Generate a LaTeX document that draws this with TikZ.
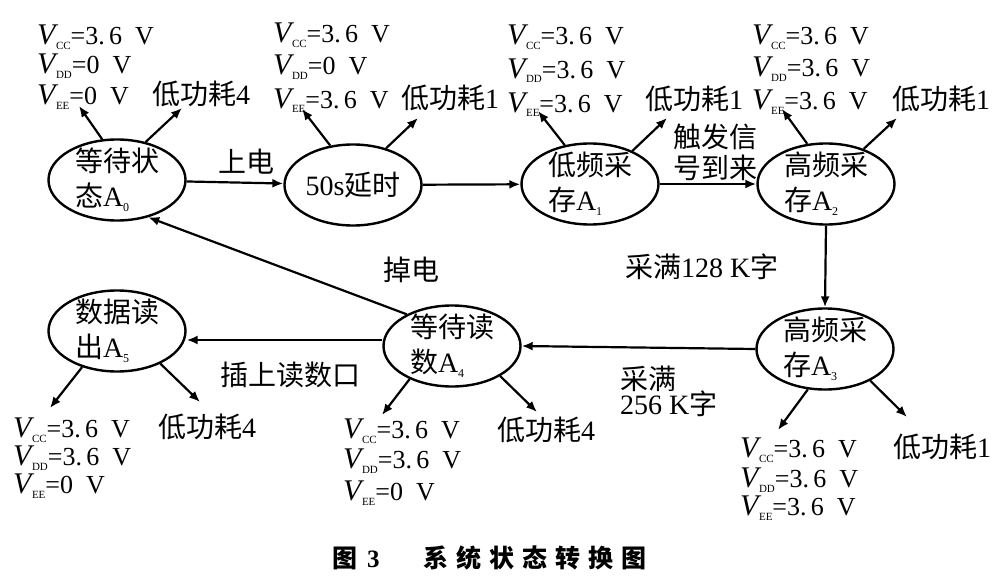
\documentclass[tikz,border=0pt]{standalone}
\usepackage{fontspec}
\setmainfont{Liberation Serif}
\newfontfamily\cjk{Noto Sans CJK SC}
\usetikzlibrary{shapes.geometric,arrows.meta}
\newcommand\zh[1]{{\cjk #1}}
\newcommand\mysub[1]{\raisebox{-5pt}{\fontsize{12}{12}\selectfont #1}}
\newcommand\vsym[1]{{\fontsize{30}{30}\selectfont\itshape V}\kern0.5pt\raisebox{-5pt}{\fontsize{11}{11}\selectfont #1}}
\newcommand\vval[2]{\vsym{#1}=#2~~V}
\newcommand\vblk[8]{%
  \node[vt] (#1cc) at (#2,#3) {\vval{CC}{#6}};
  \node[vt] (#1dd) at (#2,#4) {\vval{DD}{#7}};
  \node[vt] (#1ee) at (#2,#5) {\vval{EE}{#8}};}
\begin{document}
\begin{tikzpicture}[x=1pt,y=-1pt,
  st/.style={ellipse, draw, line width=2.4pt, minimum width=137pt, minimum height=81pt, inner sep=0pt},
  stxt/.style={align=left, inner sep=0pt, font=\fontsize{28}{35}\selectfont},
  arr/.style={line width=2.2pt, -{Latex[length=11pt,width=9pt]}},
  vt/.style={anchor=base west, inner sep=0pt, text height=20pt, text depth=4pt, font=\fontsize{26}{26}\selectfont},
  lt/.style={anchor=base west, inner sep=0pt, text height=22pt, text depth=2pt, font=\fontsize{28}{28}\selectfont}]
\useasboundingbox (0,0) rectangle (1002,586);
% states
\node[st, label={[stxt]center:{\zh{等待状}\\\zh{态}A\mysub{0}}}] (A0) at (117,180) {};
\node[st, label={[stxt]center:{50s\zh{延时}}}] (S) at (353,185) {};
\node[st, label={[stxt]center:{\zh{低频采}\\\zh{存}A\mysub{1}}}] (A1) at (590,184) {};
\node[st, label={[stxt]center:{\zh{高频采}\\\zh{存}A\mysub{2}}}] (A2) at (826,184) {};
\node[st, label={[stxt]center:{\zh{高频采}\\\zh{存}A\mysub{3}}}] (A3) at (825,349) {};
\node[st, label={[stxt]center:{\zh{等待读}\\\zh{数}A\mysub{4}}}] (A4) at (452,346) {};
\node[st, label={[stxt]center:{\zh{数据读}\\\zh{出}A\mysub{5}}}] (A5) at (117,331) {};
% voltage blocks
\vblk{b0}{37}{45}{74}{105}{3.\,6}{0}{0}
\vblk{b1}{273}{43}{75}{108}{3.\,6}{0}{3.\,6}
\vblk{b2}{507}{45}{78}{112}{3.\,6}{3.\,6}{3.\,6}
\vblk{b3}{752}{45}{77}{110}{3.\,6}{3.\,6}{3.\,6}
\vblk{b5}{13}{437}{465}{493}{3.\,6}{3.\,6}{0}
\vblk{b4}{343}{438}{468}{500}{3.\,6}{3.\,6}{0}
\vblk{b6}{740}{457}{487}{515}{3.\,6}{3.\,6}{3.\,6}
% low power labels
\node[lt] (p0) at (152,105) {\zh{低功耗}4};
\node[lt] (p1) at (401,108) {\zh{低功耗}1};
\node[lt] (p2) at (645,110) {\zh{低功耗}1};
\node[lt] (p3) at (892,110) {\zh{低功耗}1};
\node[lt] (p5) at (158,437) {\zh{低功耗}4};
\node[lt] (p4) at (497,440) {\zh{低功耗}4};
\node[lt] (p6) at (893,457) {\zh{低功耗}1};
% transition labels
\node[lt] (l1) at (218,172) {\zh{上电}};
\node[lt] (l2a) at (673,147) {\zh{触发信}};
\node[lt] (l2b) at (673,178) {\zh{号到来}};
\node[lt] (l3) at (625,277) {\zh{采满}128~K\zh{字}};
\node[lt] (l4a) at (620,389) {\zh{采满}};
\node[lt] (l4b) at (620,414) {256~K\zh{字}};
\node[lt] (l5) at (220,385) {\zh{插上读数口}};
\node[lt] (l6) at (383,280) {\zh{掉电}};
% caption
\node[anchor=base west, inner sep=0pt, font=\fontsize{25}{25}\selectfont\bfseries] (cap1) at (332,567) {\zh{图}\hspace{10pt}3};
\node[anchor=base west, inner sep=0pt, font=\fontsize{25}{25}\selectfont\bfseries] (cap2) at (423,567) {\zh{系\hspace{8pt}统\hspace{8pt}状\hspace{8pt}态\hspace{8pt}转\hspace{8pt}换\hspace{8pt}图}};
% arrow heads
\coordinate (h0a) at (79,106); \coordinate (h0b) at (182,108);
\coordinate (h1a) at (302,109); \coordinate (h1b) at (418,118);
\coordinate (h2a) at (538,111); \coordinate (h2b) at (667,118);
\coordinate (h3a) at (782,109); \coordinate (h3b) at (897,118);
\coordinate (h5a) at (50,408); \coordinate (h5b) at (200,402);
\coordinate (h4a) at (382,415); \coordinate (h4b) at (537,412);
\coordinate (h6a) at (778,430); \coordinate (h6b) at (907,417);
\coordinate (y45) at (0,340);
% transitions
\draw[arr] (A0) -- (S);
\draw[arr] (S) -- (A1);
\draw[arr] (A1) -- (A2);
\draw[arr] (A2.south) -- (A3.north);
\draw[arr] (A3.west) -- (A4.east);
\draw[arr] (A4.west |- y45) -- (A5.east |- y45);
\draw[arr] (A4.145) -- (A0.310);
% outputs
\draw[arr] (A0.110) -- (h0a); \draw[arr] (A0.53) -- (h0b);
\draw[arr] (S.120) -- (h1a); \draw[arr] (S.48) -- (h1b);
\draw[arr] (A1.123) -- (h2a); \draw[arr] (A1.38) -- (h2b);
\draw[arr] (A2.115) -- (h3a); \draw[arr] (A2.43) -- (h3b);
\draw[arr] (A5.226) -- (h5a); \draw[arr] (A5.323) -- (h5b);
\draw[arr] (A4.218) -- (h4a); \draw[arr] (A4.328) -- (h4b);
\draw[arr] (A3.247) -- (h6a); \draw[arr] (A3.325) -- (h6b);
\end{tikzpicture}
\end{document}
